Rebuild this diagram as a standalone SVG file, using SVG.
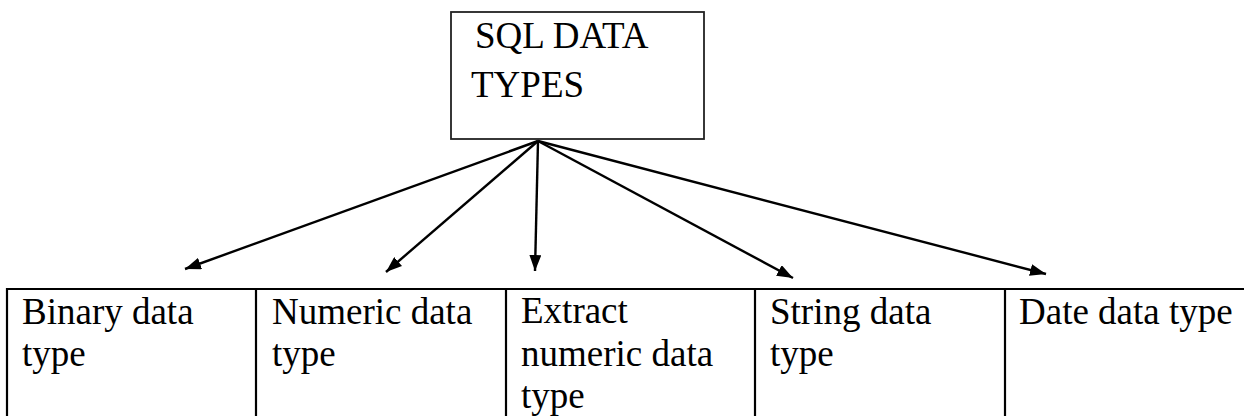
<svg xmlns="http://www.w3.org/2000/svg" width="1244" height="416" viewBox="0 0 1244 416">
<defs>
<marker id="ah" viewBox="0 0 16 12" refX="16" refY="6" markerWidth="16" markerHeight="12" markerUnits="userSpaceOnUse" orient="auto">
<path d="M0,0 L16,6 L0,12 z" fill="#000"/>
</marker>
<style>
.t{font-family:"Liberation Serif","Times New Roman",serif;font-size:37px;fill:#000}
.ln{stroke:#000;stroke-width:2.2;fill:none}
.cn{stroke:#000;stroke-width:2.4;fill:none;marker-end:url(#ah)}
</style>
</defs>
<rect width="1244" height="416" fill="#fff"/>
<g id="root">
<rect x="451" y="12" width="253" height="127" fill="#fff" stroke="#222" stroke-width="1.8"/>
<text class="t" x="475" y="48">SQL DATA</text>
<text class="t" x="471" y="97">TYPES</text>
</g>
<g id="connectors">
<line class="cn" x1="538" y1="141" x2="185" y2="269"/>
<line class="cn" x1="538" y1="141" x2="386" y2="272"/>
<line class="cn" x1="538" y1="141" x2="535" y2="271"/>
<line class="cn" x1="538" y1="141" x2="793" y2="278"/>
<line class="cn" x1="538" y1="141" x2="1046" y2="274"/>
</g>
<g id="table">
<line class="ln" x1="6" y1="289" x2="1244" y2="289"/>
<line class="ln" x1="7" y1="288" x2="7" y2="416"/>
</g>
<g id="binary">
<line class="ln" x1="256" y1="288" x2="256" y2="416"/>
<text class="t" x="22" y="324">Binary data</text>
<text class="t" x="22" y="366">type</text>
</g>
<g id="numeric">
<line class="ln" x1="506" y1="288" x2="506" y2="416"/>
<text class="t" x="272" y="324">Numeric data</text>
<text class="t" x="272" y="366">type</text>
</g>
<g id="extract">
<line class="ln" x1="755" y1="288" x2="755" y2="416"/>
<text class="t" x="521" y="323">Extract</text>
<text class="t" x="521" y="366">numeric data</text>
<text class="t" x="521" y="408">type</text>
</g>
<g id="string">
<line class="ln" x1="1005" y1="288" x2="1005" y2="416"/>
<text class="t" x="770" y="324">String data</text>
<text class="t" x="770" y="366">type</text>
</g>
<g id="date">
<text class="t" x="1019" y="324">Date data type</text>
</g>
</svg>
